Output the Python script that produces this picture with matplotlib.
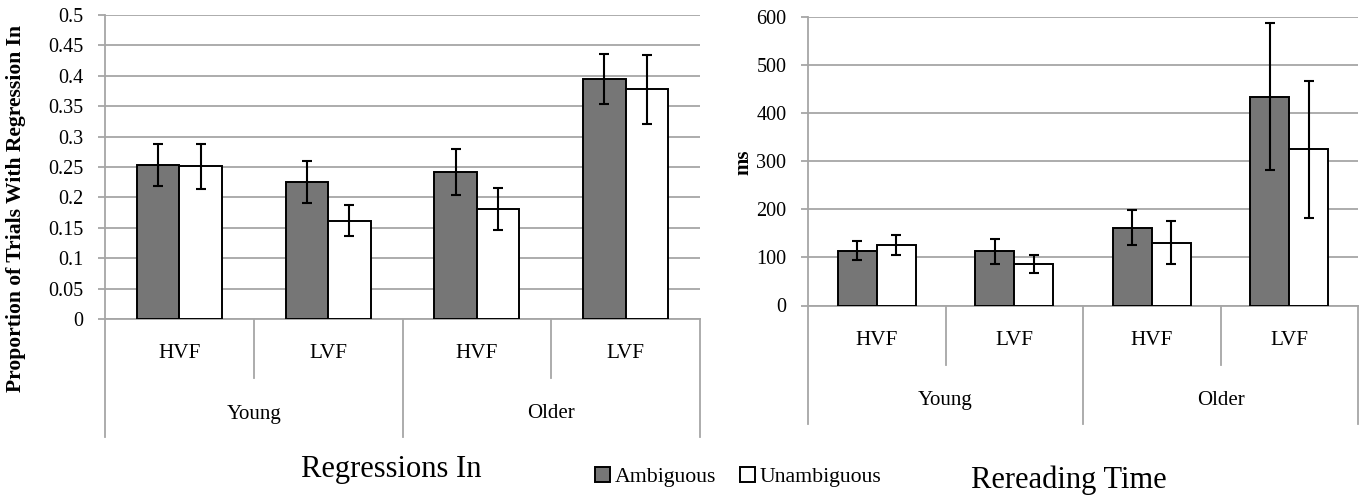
import numpy as np
import matplotlib.pyplot as plt
from matplotlib.patches import Patch

plt.rcParams['font.family'] = 'Liberation Serif'

# categories
groups = ['Young', 'Older']
fields = ['HVF', 'LVF', 'HVF', 'LVF']

# regressions in (proportion of trials)
reg_amb = [0.253, 0.225, 0.242, 0.395]
reg_amb_err = [0.035, 0.035, 0.038, 0.041]
reg_unamb = [0.251, 0.162, 0.181, 0.378]
reg_unamb_err = [0.037, 0.025, 0.034, 0.057]

# rereading time (ms)
rr_amb = [114, 113, 162, 434]
rr_amb_err = [20, 26, 36, 153]
rr_unamb = [126, 86, 131, 325]
rr_unamb_err = [21, 18, 44, 142]

GRID = '#a6a6a6'
DARK = '#767676'
W, H = 1361, 497

fig = plt.figure(figsize=(W / 100, H / 100), dpi=100)


def panel(rect, amb, amb_err, unamb, unamb_err, ymax, ystep, labels):
    ax = fig.add_axes([rect[0] / W, 1 - rect[3] / H, (rect[2] - rect[0]) / W, (rect[3] - rect[1]) / H])
    hpx = rect[3] - rect[1]
    x = np.arange(len(fields))
    w = 0.285
    ek = dict(ecolor='black', elinewidth=1.5, capsize=3.3, capthick=1.5)
    ax.bar(x - w / 2, amb, w, color=DARK, edgecolor='black', linewidth=1.4,
           yerr=amb_err, error_kw=ek, zorder=3)
    ax.bar(x + w / 2, unamb, w, color='white', edgecolor='black', linewidth=1.4,
           yerr=unamb_err, error_kw=ek, zorder=3)
    ax.set_xlim(-0.5, len(fields) - 0.5)
    ax.set_ylim(0, ymax)
    ticks = np.arange(0, ymax + ystep / 2, ystep)
    ax.set_yticks(ticks)
    ax.set_yticklabels(labels)
    ax.yaxis.grid(True, color=GRID, linewidth=1.3)
    ax.set_axisbelow(True)
    ax.set_xticks([])
    for s in ['top', 'right']:
        ax.spines[s].set_visible(False)
    for s in ['left', 'bottom']:
        ax.spines[s].set_color(GRID)
        ax.spines[s].set_linewidth(1.3)
    ax.tick_params(axis='y', length=5, width=1.3, color=GRID, labelsize=14.5, pad=10.5)

    # multi-level category axis
    tr = ax.get_xaxis_transform()
    for i in range(len(fields) + 1):
        xs = i - 0.5
        depth = 118 if i % 2 == 0 else 59
        ax.plot([xs, xs], [0, -depth / hpx], color=GRID, lw=1.3, transform=tr, clip_on=False)
    for i, f in enumerate(fields):
        ax.text(i, -35 / hpx, f, transform=tr, ha='center', va='center', fontsize=15.3)
    for j, g in enumerate(groups):
        ax.text(2 * j + 0.5, -95 / hpx, g, transform=tr, ha='center', va='center', fontsize=15)
    return ax


panel((105, 15, 700, 319), reg_amb, reg_amb_err, reg_unamb, reg_unamb_err, 0.5, 0.05,
      ['0', '0.05', '0.1', '0.15', '0.2', '0.25', '0.3', '0.35', '0.4', '0.45', '0.5'])
panel((808, 17, 1358, 305.5), rr_amb, rr_amb_err, rr_unamb, rr_unamb_err, 600, 100,
      ['0', '100', '200', '300', '400', '500', '600'])

fig.text(16 / W, 1 - 209 / H, 'Proportion of Trials With Regression In', rotation=90,
         ha='center', va='center', fontsize=15.6, fontweight='bold')
fig.text(743 / W, 1 - 162 / H, 'ms', rotation=90, ha='center', va='center',
         fontsize=15, fontweight='bold')

fig.text(391 / W, 1 - 470 / H, 'Regressions In', ha='center', va='center', fontsize=22)
fig.text(1069 / W, 1 - 480 / H, 'Rereading Time', ha='center', va='center', fontsize=22)

handles = [Patch(facecolor=DARK, edgecolor='black', linewidth=1.4, label='Ambiguous'),
           Patch(facecolor='white', edgecolor='black', linewidth=1.4, label='Unambiguous')]
fig.legend(handles=handles, loc='center', bbox_to_anchor=(738 / W, 1 - 477 / H), ncol=2,
           frameon=False, fontsize=15.7, handlelength=0.7, handleheight=0.7,
           handletextpad=0.2, columnspacing=1.1)

fig.savefig('out.png', dpi=100)
